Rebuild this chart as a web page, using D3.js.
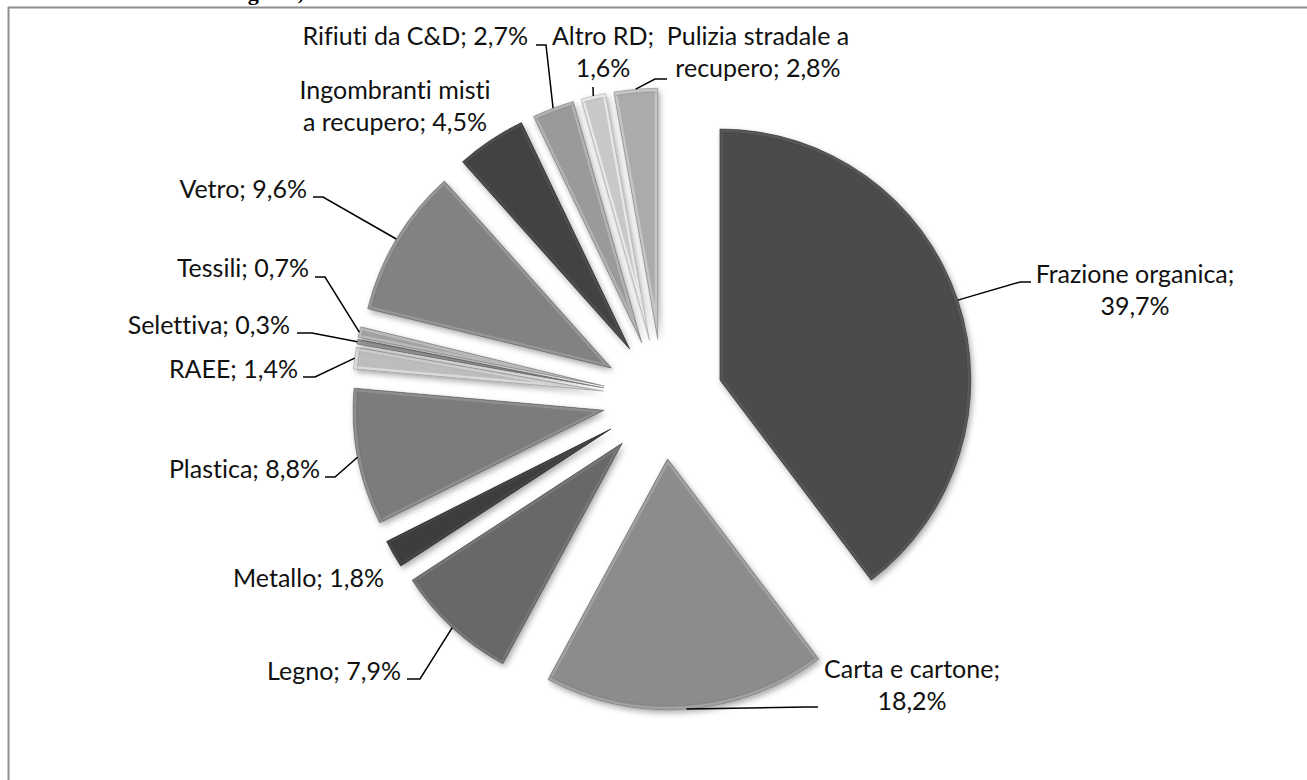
<!DOCTYPE html>
<html>
<head>
<meta charset="utf-8">
<script src="https://cdn.jsdelivr.net/npm/d3@7"></script>
<style>
  html, body { margin: 0; padding: 0; background: #fff; }
  svg { display: block; }
  text { font-variant-ligatures: none; font-feature-settings: "liga" 0, "clig" 0; }
</style>
</head>
<body>
<svg id="chart" width="1307" height="780"></svg>
<script>
// ---- data ----
const categories = [
  "Frazione organica", "Carta e cartone", "Legno", "Metallo", "Plastica",
  "RAEE", "Selettiva", "Tessili", "Vetro", "Ingombranti misti a recupero",
  "Rifiuti da C&D", "Altro RD", "Pulizia stradale a recupero"
];
const values = [39.7, 18.2, 7.9, 1.8, 8.8, 1.4, 0.3, 0.7, 9.6, 4.5, 2.7, 1.6, 2.8];
const sliceColors = [
  "#4b4b4b", "#8c8c8c", "#676767", "#3c3c3c", "#7b7b7b",
  "#bdbdbd", "#8a8a8a", "#a0a0a0", "#828282", "#434343",
  "#9a9a9a", "#c8c8c8", "#ababab"
];

// ---- layout (label placement, not data) ----
const labelLayout = [
  { brk: 2, anchor: "middle", x: 1135, y: 283, leader: [[1020, 282], [1031, 282]] },
  { brk: 3, anchor: "middle", x: 912,  y: 678, leader: [[806, 707], [818, 707]] },
  { brk: 0, anchor: "end",    x: 401,  y: 680, leader: [[420, 679], [407, 679]] },
  { brk: 0, anchor: "end",    x: 384,  y: 587, leader: null },
  { brk: 0, anchor: "end",    x: 320,  y: 478, leader: [[335, 477], [325, 477]] },
  { brk: 0, anchor: "end",    x: 298,  y: 378, leader: [[315, 377], [303, 377]] },
  { brk: 0, anchor: "end",    x: 290,  y: 334, leader: [[312, 333], [297, 333]] },
  { brk: 0, anchor: "end",    x: 309,  y: 277, leader: [[325, 277], [315, 277]] },
  { brk: 0, anchor: "end",    x: 307,  y: 198, leader: [[323, 197], [313, 197]] },
  { brk: 2, anchor: "middle", x: 395,  y: 99,  leader: null },
  { brk: 0, anchor: "end",    x: 528,  y: 45,  leader: [[546, 45], [536, 45]] },
  { brk: 2, anchor: "middle", x: 603,  y: 45,  leader: [[593, 87]] },
  { brk: 3, anchor: "middle", x: 758,  y: 45,  leader: [[655, 79], [667, 79]] }
];

const W = 1307, H = 780;
const cx = 663, cy = 399, R = 251, explode = 60;
const fontSize = 25, lineH = 31.5;

const svg = d3.select("#chart");

// frame
svg.append("line").attr("x1", 8).attr("x2", W).attr("y1", 7.5).attr("y2", 7.5)
  .attr("stroke", "#8e8e8e").attr("stroke-width", 2);
svg.append("line").attr("x1", 8.5).attr("x2", 8.5).attr("y1", 7).attr("y2", H)
  .attr("stroke", "#8e8e8e").attr("stroke-width", 2);

// caption fragment above the frame (cut off by the page top, as in the reference)
svg.append("text").attr("x", 222).attr("y", 0)
  .attr("font-family", "'Liberation Serif', 'DejaVu Serif', serif")
  .attr("font-weight", "bold").attr("font-size", 22).attr("fill", "#000")
  .text("Regione,");

const defs = svg.append("defs");
const f = defs.append("filter").attr("id", "shadow")
  .attr("x", "-20%").attr("y", "-20%").attr("width", "140%").attr("height", "140%");
f.append("feGaussianBlur").attr("in", "SourceAlpha").attr("stdDeviation", 3).attr("result", "b");
f.append("feOffset").attr("in", "b").attr("dx", 1.5).attr("dy", 2.5).attr("result", "o");
f.append("feComponentTransfer").attr("in", "o").attr("result", "s")
  .append("feFuncA").attr("type", "linear").attr("slope", 0.35);
const fm = f.append("feMerge");
fm.append("feMergeNode").attr("in", "s");
fm.append("feMergeNode").attr("in", "SourceGraphic");

const pie = d3.pie().sort(null).value(d => d).startAngle(0).endAngle(2 * Math.PI);
const arcs = pie(values);
const arc = d3.arc().innerRadius(0).outerRadius(R);
const rimArc = d3.arc().innerRadius(R).outerRadius(R);

function offsetOf(d) {
  const a = (d.startAngle + d.endAngle) / 2;
  return [cx + explode * Math.sin(a), cy - explode * Math.cos(a)];
}

const g = svg.append("g");
arcs.forEach((d, i) => {
  const [ox, oy] = offsetOf(d);
  const base = d3.color(sliceColors[i]);
  const sg = g.append("g").attr("transform", `translate(${ox},${oy})`);
  const clipId = "clip" + i;
  defs.append("clipPath").attr("id", clipId).append("path").attr("d", arc(d));
  sg.append("path").attr("d", arc(d)).attr("fill", base.formatHex())
    .attr("filter", "url(#shadow)");
  // bevel: lighter rim band inside the edge
  sg.append("path").attr("d", arc(d)).attr("fill", "none")
    .attr("stroke", base.brighter(0.4).formatHex()).attr("stroke-width", 6)
    .attr("stroke-linejoin", "round")
    .attr("clip-path", `url(#${clipId})`);
  sg.append("path").attr("d", arc(d)).attr("fill", "none")
    .attr("stroke", base.darker(0.25).formatHex()).attr("stroke-width", 1)
    .attr("clip-path", `url(#${clipId})`)
    .attr("transform", "scale(0.985)");
  sg.append("path").attr("d", arc(d)).attr("fill", "none")
    .attr("stroke", base.darker(0.5).formatHex()).attr("stroke-width", 1)
    .attr("stroke-opacity", 0.5);
});

// labels
const fmt = v => v.toFixed(1).replace(".", ",") + "%";
const lg = svg.append("g")
  .attr("font-family", "Lato, 'Open Sans', sans-serif")
  .attr("font-size", fontSize).attr("fill", "#111");

arcs.forEach((d, i) => {
  const L = labelLayout[i];
  const words = (categories[i] + "; " + fmt(values[i])).split(" ");
  const lines = L.brk ? [words.slice(0, L.brk).join(" "), words.slice(L.brk).join(" ")]
                      : [words.join(" ")];
  const t = lg.append("text").attr("text-anchor", L.anchor);
  lines.forEach((s, k) => {
    t.append("tspan").attr("x", L.x).attr("y", L.y + k * lineH).text(s);
  });
  if (L.leader) {
    const [ox, oy] = offsetOf(d);
    const c = rimArc.centroid(d);
    const pts = [[ox + c[0], oy + c[1]], ...L.leader];
    svg.append("path").attr("d", d3.line()(pts))
      .attr("fill", "none").attr("stroke", "#000").attr("stroke-width", 1.5);
  }
});
</script>
</body>
</html>
